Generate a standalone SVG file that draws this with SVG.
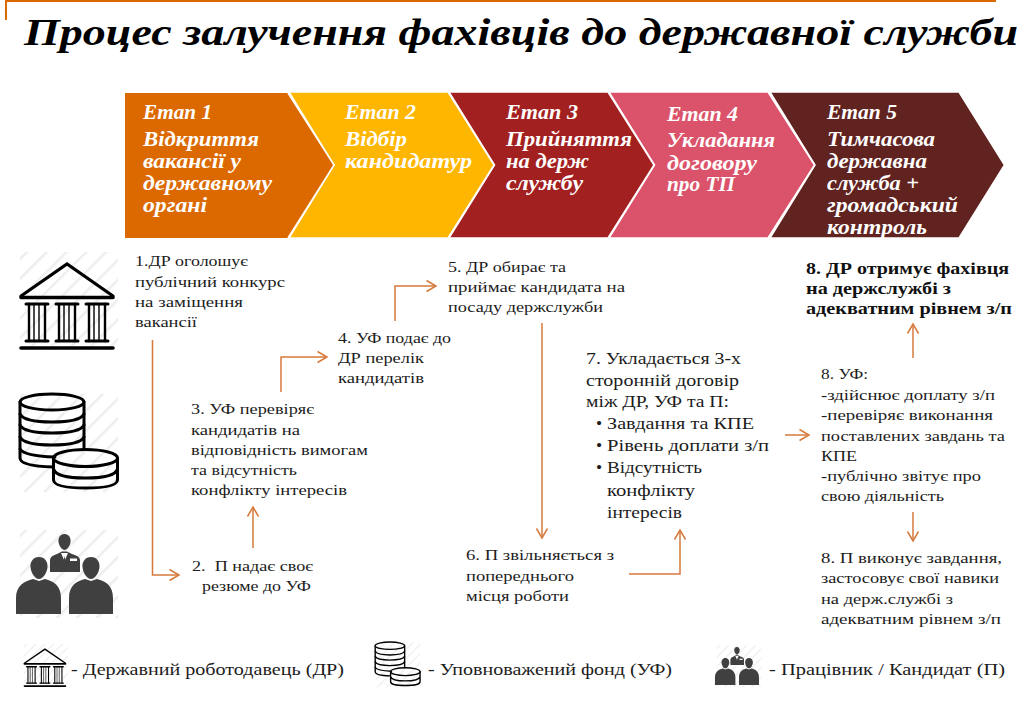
<svg xmlns="http://www.w3.org/2000/svg" width="1036" height="706" viewBox="0 0 1036 706">
<style>
text{font-family:"Liberation Serif","DejaVu Serif",serif;fill:#1c1c1c;font-size:15.5px}
.title{font-size:37px;font-weight:bold;font-style:italic;fill:#000}
.st text{fill:#fff;font-size:20px;font-weight:bold;font-style:italic}
.st polygon{stroke:#fff;stroke-width:1.5}
.big{font-size:17.5px}
.b{font-weight:bold;fill:#111;font-size:16px}
.leg{font-size:17px}
.con path{fill:none;stroke:#D67A3C;stroke-width:1.5;marker-end:url(#arr)}
.ic{fill:none;stroke:#000;stroke-linecap:round}
</style>
<defs>
<marker id="arr" markerUnits="userSpaceOnUse" markerWidth="14" markerHeight="14" viewBox="-11 -7 13 14" refX="0" refY="0" orient="auto">
<path d="M-9.5,-5.5L0,0L-9.5,5.5" style="fill:none;stroke:#D67A3C;stroke-width:1.5;marker-end:none"/>
</marker>
<pattern id="hatch" patternUnits="userSpaceOnUse" width="14" height="14" patternTransform="rotate(45)">
<rect width="14" height="14" fill="#fff"/><rect x="0" width="2.500" height="14" fill="#eeeeee"/>
</pattern>
<g id="bank">
<rect x="20" y="252" width="98" height="98" fill="url(#hatch)"/>
<path class="ic" stroke-width="3.2" d="M21,296L67,264L113,296"/>
<path class="ic" stroke-width="3.6" d="M21,297.500H113M21,348H113"/>
<g id="col"><path class="ic" stroke-width="3" d="M26,304H48M26,341H48"/><path class="ic" stroke-width="2.4" d="M29,304V341M45,304V341"/><path class="ic" stroke-width="1.4" d="M34,304V341M39,304V341"/></g>
<use href="#col" x="30"/><use href="#col" x="60"/>
</g>
<g id="coins">
<rect x="20" y="394" width="98" height="98" fill="url(#hatch)"/>
<g class="ic" stroke-width="3">
<ellipse cx="52" cy="402" rx="32" ry="8"/>
<path d="M20,402V458Q20,466 53,467M84,402V449"/>
<path d="M20,414Q24,422 52,422Q80,422 84,414M20,425Q24,433 52,433Q80,433 84,425M20,437Q24,445 52,445Q80,445 84,437M20,449Q24,456 55,457"/>
<ellipse cx="85.500" cy="458" rx="32" ry="8.500"/>
<path d="M53.500,458V480Q54,488 85.500,488Q117,488 117.500,480V458M53.500,469Q56,478 85.500,478Q115,478 117.500,469"/>
</g>
</g>
<g id="people">
<rect x="20" y="530" width="98" height="88" fill="url(#hatch)"/>
<g fill="#404040">
<path d="M64.500,534C60,534 58,538 58.500,542C59,546 62,550 64.500,550C67,550 70,546 70.500,542C71,538 69,534 64.500,534Z"/>
<path d="M50,572V560Q50,556 57,554L62,551.500H67L72,554Q80,556 80,560V572Z"/>
<path d="M39,557C33,557 30,562 30.500,567C31,573 35,579 39,579C43,579 47,573 47.500,567C48,562 45,557 39,557Z"/>
<path d="M16,614V598C16,586 24,581 33,579L39,581L45,579C54,581 61,586 61,598V614Z"/>
<path d="M91,557C85,557 82,562 82.500,567C83,573 87,579 91,579C95,579 99,573 99.500,567C100,562 97,557 91,557Z"/>
<path d="M69,614V598C69,586 76,581 85,579L91,581L97,579C106,581 113,586 113,598V614Z"/>
</g>
<path d="M61,553L64.500,561L68,553Z" fill="#fff"/>
<path d="M64.500,556L62.800,565L64.500,570L66.200,565Z" fill="#404040"/>
<rect x="70" y="558.500" width="7" height="2.500" fill="#fff"/>
</g>
</defs>

<rect width="1036" height="706" fill="#fff"/>
<path d="M6,20V1H996" fill="none" stroke="#DC6900" stroke-width="2"/>
<text class="title" x="24" y="45" textLength="994" lengthAdjust="spacingAndGlyphs">Процес залучення фахівців до державної служби</text>

<g id="stage-5" class="st"><polygon points="770,92 959,92 1004.500,165 959,238 770,238 815,165" fill="#602320"/>
<text x="827" y="119" textLength="70" lengthAdjust="spacingAndGlyphs">Етап 5</text>
<text x="827" y="146" textLength="108" lengthAdjust="spacingAndGlyphs">Тимчасова</text>
<text x="827" y="168" textLength="100" lengthAdjust="spacingAndGlyphs">державна</text>
<text x="827" y="190" textLength="92" lengthAdjust="spacingAndGlyphs">служба +</text>
<text x="827" y="212" textLength="131" lengthAdjust="spacingAndGlyphs">громадський</text>
<text x="827" y="234" textLength="100" lengthAdjust="spacingAndGlyphs">контроль</text></g>
<g id="stage-4" class="st"><polygon points="609,92 768,92 814.500,165 768,238 609,238 654.500,165" fill="#DB536A"/>
<text x="667" y="121" textLength="71" lengthAdjust="spacingAndGlyphs">Етап 4</text>
<text x="667" y="147" textLength="108" lengthAdjust="spacingAndGlyphs">Укладання</text>
<text x="667" y="170" textLength="90" lengthAdjust="spacingAndGlyphs">договору</text>
<text x="667" y="191" textLength="68" lengthAdjust="spacingAndGlyphs">про ТП</text></g>
<g id="stage-3" class="st"><polygon points="449,92 608,92 654,165 608,238 449,238 494.500,165" fill="#A32020"/>
<text x="506" y="119" textLength="72" lengthAdjust="spacingAndGlyphs">Етап 3</text>
<text x="506" y="146" textLength="126" lengthAdjust="spacingAndGlyphs">Прийняття</text>
<text x="506" y="168" textLength="83" lengthAdjust="spacingAndGlyphs">на держ</text>
<text x="506" y="190" textLength="77" lengthAdjust="spacingAndGlyphs">службу</text></g>
<g id="stage-2" class="st"><polygon points="289,92 448,92 494,165 448,238 289,238 334,165" fill="#FFB600"/>
<text x="345" y="119" textLength="71" lengthAdjust="spacingAndGlyphs">Етап 2</text>
<text x="345" y="146" textLength="62" lengthAdjust="spacingAndGlyphs">Відбір</text>
<text x="345" y="168" textLength="127" lengthAdjust="spacingAndGlyphs">кандидатур</text></g>
<g id="stage-1" class="st"><polygon points="125,93 288,93 334,165 288,238 125,238" fill="#DC6900" style="stroke:none"/>
<path d="M288,93L334,165L288,238" fill="none" stroke="#fff" stroke-width="1.500"/>
<text x="143" y="119" textLength="69" lengthAdjust="spacingAndGlyphs">Етап 1</text>
<text x="143" y="146" textLength="116" lengthAdjust="spacingAndGlyphs">Відкриття</text>
<text x="143" y="168" textLength="98" lengthAdjust="spacingAndGlyphs">вакансії у</text>
<text x="143" y="190" textLength="129" lengthAdjust="spacingAndGlyphs">державному</text>
<text x="143" y="212" textLength="64" lengthAdjust="spacingAndGlyphs">органі</text></g>

<g id="icon-employer"><use href="#bank"/></g>
<g id="icon-fund"><use href="#coins"/></g>
<g id="icon-people"><use href="#people"/></g>

<g id="connectors" class="con">
<path d="M152.500,340V575H179"/>
<path d="M253,548V507"/>
<path d="M281,392V357H327"/>
<path d="M395,321V286H436"/>
<path d="M542,323V538"/>
<path d="M629,574H680V530"/>
<path d="M785,435H809"/>
<path d="M913,358V324"/>
<path d="M913,512V541"/>
</g>

<g id="step-1">
<text x="135" y="266" textLength="113" lengthAdjust="spacingAndGlyphs">1.ДР оголошує</text>
<text x="135" y="287" textLength="150" lengthAdjust="spacingAndGlyphs">публічний конкурс</text>
<text x="135" y="307" textLength="108" lengthAdjust="spacingAndGlyphs">на заміщення</text>
<text x="135" y="327" textLength="62" lengthAdjust="spacingAndGlyphs">вакансії</text></g>
<g id="step-2">
<text x="192" y="571" textLength="121" lengthAdjust="spacingAndGlyphs" xml:space="preserve">2.  П надає своє</text>
<text x="202" y="591" textLength="109" lengthAdjust="spacingAndGlyphs">резюме до УФ</text></g>
<g id="step-3">
<text x="191" y="414" textLength="123" lengthAdjust="spacingAndGlyphs">3. УФ перевіряє</text>
<text x="191" y="435" textLength="109" lengthAdjust="spacingAndGlyphs">кандидатів на</text>
<text x="191" y="455" textLength="177" lengthAdjust="spacingAndGlyphs">відповідність вимогам</text>
<text x="191" y="475" textLength="106" lengthAdjust="spacingAndGlyphs">та відсутність</text>
<text x="191" y="495" textLength="156" lengthAdjust="spacingAndGlyphs">конфлікту інтересів</text></g>
<g id="step-4">
<text x="338" y="343" textLength="113" lengthAdjust="spacingAndGlyphs">4. УФ подає до</text>
<text x="338" y="363" textLength="86" lengthAdjust="spacingAndGlyphs">ДР перелік</text>
<text x="338" y="383" textLength="86" lengthAdjust="spacingAndGlyphs">кандидатів</text></g>
<g id="step-5">
<text x="448" y="272" textLength="118" lengthAdjust="spacingAndGlyphs">5. ДР обирає та</text>
<text x="448" y="292" textLength="177" lengthAdjust="spacingAndGlyphs">приймає кандидата на</text>
<text x="448" y="312" textLength="155" lengthAdjust="spacingAndGlyphs">посаду держслужби</text></g>
<g id="step-6">
<text x="466" y="560" textLength="148" lengthAdjust="spacingAndGlyphs">6. П звільняється з</text>
<text x="466" y="581" textLength="108" lengthAdjust="spacingAndGlyphs">попереднього</text>
<text x="466" y="601" textLength="103" lengthAdjust="spacingAndGlyphs">місця роботи</text></g>
<g id="step-7">
<text class="big" x="586" y="364" textLength="155" lengthAdjust="spacingAndGlyphs">7. Укладається 3-х</text>
<text class="big" x="586" y="386" textLength="153" lengthAdjust="spacingAndGlyphs">сторонній договір</text>
<text class="big" x="586" y="407" textLength="143" lengthAdjust="spacingAndGlyphs">між ДР, УФ та П:</text>
<text class="big" x="596" y="429">•</text><text class="big" x="607" y="429" textLength="147" lengthAdjust="spacingAndGlyphs">Завдання та КПЕ</text>
<text class="big" x="596" y="451">•</text><text class="big" x="607" y="451" textLength="162" lengthAdjust="spacingAndGlyphs">Рівень доплати з/п</text>
<text class="big" x="596" y="473">•</text><text class="big" x="607" y="473" textLength="95" lengthAdjust="spacingAndGlyphs">Відсутність</text>
<text class="big" x="607" y="496" textLength="88" lengthAdjust="spacingAndGlyphs">конфлікту</text>
<text class="big" x="607" y="518" textLength="75" lengthAdjust="spacingAndGlyphs">інтересів</text></g>
<g id="step-8-result">
<text class="b" x="806" y="274" textLength="203" lengthAdjust="spacingAndGlyphs">8. ДР отримує фахівця</text>
<text class="b" x="806" y="294" textLength="145" lengthAdjust="spacingAndGlyphs">на держслужбі з</text>
<text class="b" x="806" y="314" textLength="206" lengthAdjust="spacingAndGlyphs">адекватним рівнем з/п</text></g>
<g id="step-8-fund">
<text x="821" y="379" textLength="47" lengthAdjust="spacingAndGlyphs">8. УФ:</text>
<text x="821" y="400" textLength="174" lengthAdjust="spacingAndGlyphs">-здійснює доплату з/п</text>
<text x="821" y="420" textLength="172" lengthAdjust="spacingAndGlyphs">-перевіряє виконання</text>
<text x="821" y="441" textLength="184" lengthAdjust="spacingAndGlyphs">поставлених завдань та</text>
<text x="821" y="461" textLength="36" lengthAdjust="spacingAndGlyphs">КПЕ</text>
<text x="821" y="481" textLength="160" lengthAdjust="spacingAndGlyphs">-публічно звітує про</text>
<text x="821" y="501" textLength="123" lengthAdjust="spacingAndGlyphs">свою діяльність</text></g>
<g id="step-8-worker">
<text x="821" y="563" textLength="181" lengthAdjust="spacingAndGlyphs">8. П виконує завдання,</text>
<text x="821" y="583" textLength="178" lengthAdjust="spacingAndGlyphs">застосовує свої навики</text>
<text x="821" y="604" textLength="132" lengthAdjust="spacingAndGlyphs">на держ.службі з</text>
<text x="821" y="624" textLength="180" lengthAdjust="spacingAndGlyphs">адекватним рівнем з/п</text></g>

<g id="legend-employer"><use href="#bank" transform="translate(15,533) scale(.447,.44)"/>
<text class="leg" x="71" y="675" textLength="273" lengthAdjust="spacingAndGlyphs">- Державний роботодавець (ДР)</text></g>
<g id="legend-fund"><use href="#coins" transform="translate(366,459.600) scale(.46,.463)"/>
<text class="leg" x="428" y="675" textLength="244" lengthAdjust="spacingAndGlyphs">- Уповноважений фонд (УФ)</text></g>
<g id="legend-worker"><use href="#people" transform="translate(707.700,393.400) scale(.454,.475)"/>
<text class="leg" x="769" y="675" textLength="236" lengthAdjust="spacingAndGlyphs">- Працівник / Кандидат (П)</text></g>
</svg>
